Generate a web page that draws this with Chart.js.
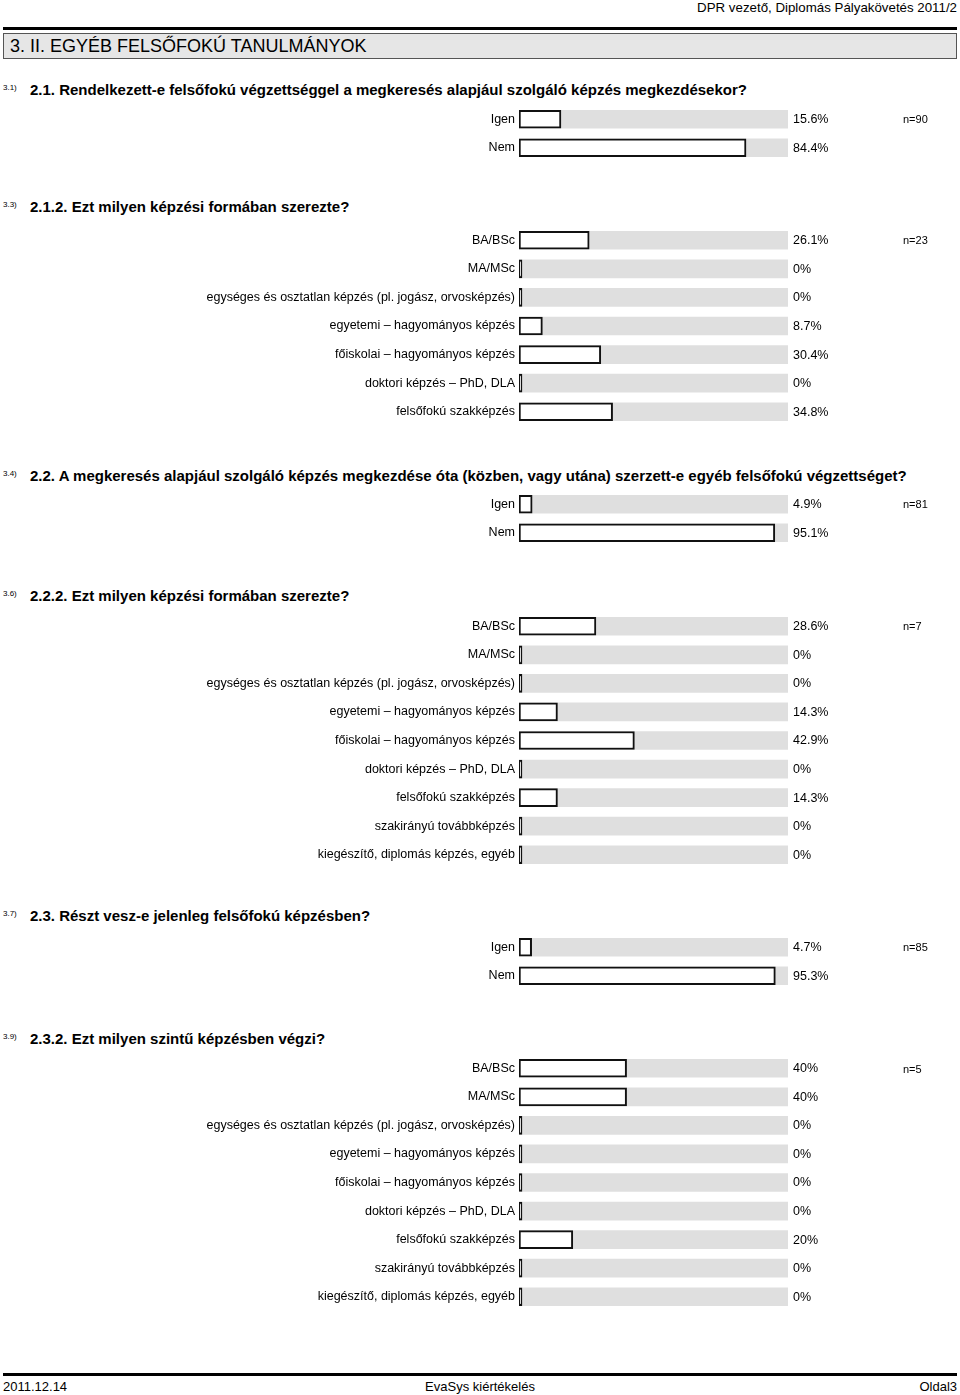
<!DOCTYPE html>
<html>
<head>
<meta charset="utf-8">
<script src="https://cdn.jsdelivr.net/npm/chart.js@4.4.0/dist/chart.umd.min.js"></script>
<style>
  html, body { margin:0; padding:0; background:#fff; }
  body { width:960px; height:1395px; position:relative; overflow:hidden; font-family:"Liberation Sans", Arial, sans-serif; color:#000; }
  .abs { position:absolute; white-space:nowrap; }
  .hdr { right:3px; top:0px; font-size:13.3px; line-height:16px; }
  .rule { position:absolute; left:3px; width:954px; height:3px; background:#000; }
  .secbox { position:absolute; left:3px; top:33px; width:952px; height:24px; background:#e6e6e6; border:1px solid #555; }
  .sectitle { left:10px; top:34px; font-size:18px; line-height:24px; }
  .sup { font-size:8px; line-height:10px; left:3px; }
  .qt { left:30px; font-size:15px; font-weight:bold; line-height:18px; }
  .n { left:903px; font-size:11px; line-height:14px; }
  .foot { top:1379px; font-size:13px; line-height:16px; }
  canvas { position:absolute; left:0; }
</style>
</head>
<body>
<div class="abs hdr">DPR vezető, Diplomás Pályakövetés 2011/2</div>
<div class="rule" style="top:27px;"></div>
<div class="secbox"></div>
<div class="abs sectitle">3. II. EGYÉB FELSŐFOKÚ TANULMÁNYOK</div>

<div class="abs sup" style="top:82.5px;">3.1)</div>
<div class="abs qt" style="top:80.5px;">2.1. Rendelkezett-e felsőfokú végzettséggel a megkeresés alapjául szolgáló képzés megkezdésekor?</div>
<div class="abs sup" style="top:199.5px;">3.3)</div>
<div class="abs qt" style="top:197.5px;">2.1.2. Ezt milyen képzési formában szerezte?</div>
<div class="abs sup" style="top:468.5px;">3.4)</div>
<div class="abs qt" style="top:466.5px;">2.2. A megkeresés alapjául szolgáló képzés megkezdése óta (közben, vagy utána) szerzett-e egyéb felsőfokú végzettséget?</div>
<div class="abs sup" style="top:588.5px;">3.6)</div>
<div class="abs qt" style="top:586.5px;">2.2.2. Ezt milyen képzési formában szerezte?</div>
<div class="abs sup" style="top:908.5px;">3.7)</div>
<div class="abs qt" style="top:906.5px;">2.3. Részt vesz-e jelenleg felsőfokú képzésben?</div>
<div class="abs sup" style="top:1031.5px;">3.9)</div>
<div class="abs qt" style="top:1029.5px;">2.3.2. Ezt milyen szintű képzésben végzi?</div>

<div class="rule" style="top:1373px;"></div>
<div class="abs foot" style="left:3px;">2011.12.14</div>
<div class="abs foot" style="left:0; width:960px; text-align:center;">EvaSys kiértékelés</div>
<div class="abs foot" style="right:3px;">Oldal3</div>

<canvas id="c1"></canvas>
<canvas id="c2"></canvas>
<canvas id="c3"></canvas>
<canvas id="c4"></canvas>
<canvas id="c5"></canvas>
<canvas id="c6"></canvas>

<script>
// ---- Data ----
const yesNo = ['Igen', 'Nem'];
const formCats7 = [
  'BA/BSc',
  'MA/MSc',
  'egységes és osztatlan képzés (pl. jogász, orvosképzés)',
  'egyetemi – hagyományos képzés',
  'főiskolai – hagyományos képzés',
  'doktori képzés – PhD, DLA',
  'felsőfokú szakképzés'
];
const formCats9 = formCats7.concat([
  'szakirányú továbbképzés',
  'kiegészítő, diplomás képzés, egyéb'
]);

const q21Values  = [15.6, 84.4];
const q212Values = [26.1, 0, 0, 8.7, 30.4, 0, 34.8];
const q22Values  = [4.9, 95.1];
const q222Values = [28.6, 0, 0, 14.3, 42.9, 0, 14.3, 0, 0];
const q23Values  = [4.7, 95.3];
const q232Values = [40, 40, 0, 0, 0, 0, 20, 0, 0];

const nValues = [90, 23, 81, 7, 85, 5];
const trackMax = 100;

// ---- Layout (positions only) ----
const FONT = '"Liberation Sans", Arial, sans-serif';
const PITCH = 28.6;
const sections = [
  { id: 'c1', cats: yesNo,     vals: q21Values,  n: nValues[0], firstCenter: 119 },
  { id: 'c2', cats: formCats7, vals: q212Values, n: nValues[1], firstCenter: 240 },
  { id: 'c3', cats: yesNo,     vals: q22Values,  n: nValues[2], firstCenter: 504 },
  { id: 'c4', cats: formCats9, vals: q222Values, n: nValues[3], firstCenter: 626 },
  { id: 'c5', cats: yesNo,     vals: q23Values,  n: nValues[4], firstCenter: 947 },
  { id: 'c6', cats: formCats9, vals: q232Values, n: nValues[5], firstCenter: 1068.5 }
];

const pctPlugin = {
  id: 'pctLabels',
  afterDatasetsDraw(chart) {
    const ctx = chart.ctx;
    const meta = chart.getDatasetMeta(0);
    const vals = chart.data.datasets[0].data;
    ctx.save();
    ctx.font = '12.5px ' + FONT;
    ctx.fillStyle = '#000';
    ctx.textAlign = 'left';
    ctx.textBaseline = 'middle';
    meta.data.forEach((el, i) => {
      ctx.fillText(String(vals[i]) + '%', chart.chartArea.right + 5, el.y + 0.5);
    });
    ctx.restore();
  }
};

sections.forEach(s => {
  const cv = document.getElementById(s.id);
  const h = Math.round(s.cats.length * PITCH);
  const top = s.firstCenter - PITCH / 2;
  cv.width = 960; cv.height = h;
  cv.style.width = '960px'; cv.style.height = h + 'px';
  cv.style.top = top + 'px';

  const nDiv = document.createElement('div');
  nDiv.className = 'abs n';
  nDiv.style.top = (s.firstCenter - 7) + 'px';
  nDiv.textContent = 'n=' + s.n;
  document.body.appendChild(nDiv);

  new Chart(cv, {
    type: 'bar',
    data: {
      labels: s.cats,
      datasets: [
        {
          data: s.vals,
          backgroundColor: '#ffffff',
          borderColor: '#111111',
          borderWidth: 2,
          borderSkipped: false,
          barThickness: 18,
          minBarLength: 3,
          grouped: false,
          order: 0
        },
        {
          data: s.cats.map(() => trackMax),
          backgroundColor: '#dfdfdf',
          borderWidth: 0,
          barThickness: 18,
          grouped: false,
          order: 1
        }
      ]
    },
    options: {
      indexAxis: 'y',
      responsive: false,
      animation: false,
      events: [],
      layout: { padding: { left: 0, right: 172, top: 0, bottom: 0 } },
      plugins: { legend: { display: false }, tooltip: { enabled: false } },
      scales: {
        x: { display: false, min: 0, max: trackMax },
        y: {
          position: 'left',
          grid: { display: false, drawTicks: false },
          border: { display: false },
          ticks: { color: '#000', font: { family: FONT, size: 12.5 }, padding: 4, autoSkip: false },
          afterFit(scale) {
            scale.width = 519;
            scale.paddingTop = 0;
            scale.paddingBottom = 0;
          }
        }
      }
    },
    plugins: [pctPlugin]
  });
});
</script>
</body>
</html>
